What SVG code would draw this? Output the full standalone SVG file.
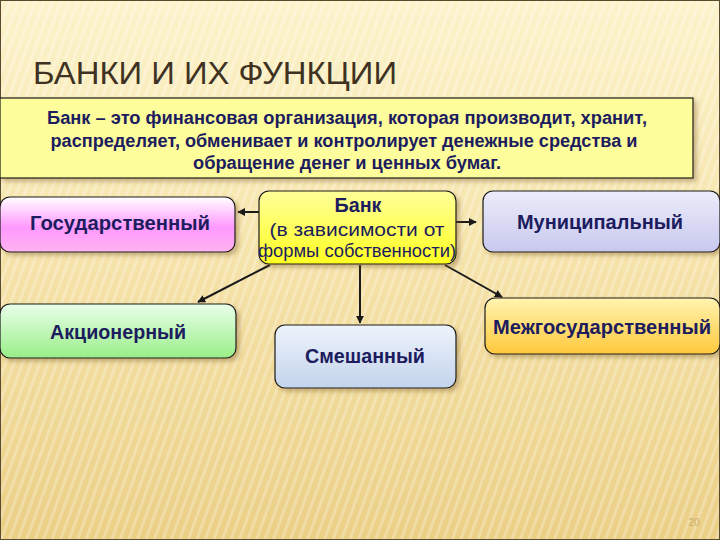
<svg xmlns="http://www.w3.org/2000/svg" width="720" height="540" viewBox="0 0 720 540">
<defs>
<linearGradient id="bg" x1="0" y1="0" x2="0" y2="1">
<stop offset="0" stop-color="#fcf3cb"/><stop offset="0.45" stop-color="#f6e4ac"/><stop offset="1" stop-color="#ebcf86"/>
</linearGradient>
<pattern id="stripes" width="8" height="8" patternUnits="userSpaceOnUse" patternTransform="rotate(20)">
<rect width="3" height="8" fill="#ffffff" opacity="0.25"/>
</pattern>
<linearGradient id="gPink" x1="0" y1="0" x2="0" y2="1"><stop offset="0" stop-color="#ffffff"/><stop offset="0.55" stop-color="#ff99ff"/><stop offset="1" stop-color="#ffb3f0"/></linearGradient>
<linearGradient id="gYellow" x1="0" y1="0" x2="0" y2="1"><stop offset="0" stop-color="#ffff99"/><stop offset="1" stop-color="#ffff22"/></linearGradient>
<linearGradient id="gLav" x1="0" y1="0" x2="0" y2="1"><stop offset="0" stop-color="#ececfb"/><stop offset="1" stop-color="#c8c8ee"/></linearGradient>
<linearGradient id="gGreen" x1="0" y1="0" x2="0" y2="1"><stop offset="0" stop-color="#eaffea"/><stop offset="1" stop-color="#99ee88"/></linearGradient>
<linearGradient id="gBlue" x1="0" y1="0" x2="0" y2="1"><stop offset="0" stop-color="#eef3fb"/><stop offset="1" stop-color="#c3d4ec"/></linearGradient>
<linearGradient id="gOrange" x1="0" y1="0" x2="0" y2="1"><stop offset="0" stop-color="#fff4b0"/><stop offset="1" stop-color="#ffc83c"/></linearGradient>
<filter id="sh" x="-10%" y="-10%" width="125%" height="135%">
<feDropShadow dx="3" dy="3" stdDeviation="2" flood-color="#7a5a20" flood-opacity="0.4"/>
</filter>
<marker id="arr" viewBox="0 0 10 10" refX="9" refY="5" markerWidth="4" markerHeight="4" orient="auto">
<path d="M0,0 L10,5 L0,10 z" fill="#1a1a1a"/>
</marker>
<style>
.node{stroke:#1a1a1a;stroke-width:1.2;filter:url(#sh)}
.lbl{font-family:"Liberation Sans",Arial,sans-serif;font-weight:bold;font-size:19.5px;fill:#1c1c5e;text-anchor:middle}
.def{font-family:"Liberation Sans",Arial,sans-serif;font-weight:bold;font-size:17.5px;fill:#1c1c5e;text-anchor:middle}
.sub{font-family:"Liberation Sans",Arial,sans-serif;font-size:18px;fill:#1c1c5e;text-anchor:middle}
.con{stroke:#1a1a1a;stroke-width:2;fill:none;marker-end:url(#arr)}
</style>
</defs>
<rect width="720" height="540" fill="url(#bg)"/>
<rect width="720" height="540" fill="url(#stripes)"/>
<rect x="0.5" y="0.5" width="719" height="539" fill="none" stroke="#5a4a30" stroke-width="1"/>
<text x="33" y="84" font-family="'Liberation Sans',Arial,sans-serif" font-size="31" fill="#3f3222" textLength="364" lengthAdjust="spacingAndGlyphs">БАНКИ И ИХ ФУНКЦИИ</text>

<g id="definition">
<rect x="0" y="98" width="693" height="80" fill="#fdfd9c" stroke="#1a1a1a" stroke-width="1.2" filter="url(#sh)"/>
<text class="def" x="347" y="124" textLength="600" lengthAdjust="spacingAndGlyphs">Банк – это финансовая организация, которая производит, хранит,</text>
<text class="def" x="344" y="147" textLength="587" lengthAdjust="spacingAndGlyphs">распределяет, обменивает и контролирует денежные средства и</text>
<text class="def" x="347" y="169" textLength="308" lengthAdjust="spacingAndGlyphs">обращение денег и ценных бумаг.</text>
</g>

<g id="connectors">
<line class="con" x1="259" y1="212" x2="238" y2="212"/>
<line class="con" x1="456" y1="222" x2="476" y2="222"/>
<line class="con" x1="270" y1="265" x2="198" y2="302"/>
<line class="con" x1="360" y1="265" x2="360" y2="323"/>
<line class="con" x1="445" y1="265" x2="502" y2="297"/>
</g>

<g id="gos">
<rect class="node" x="0" y="197" width="235" height="55" rx="10" fill="url(#gPink)"/>
<text class="lbl" x="120" y="230" textLength="180" lengthAdjust="spacingAndGlyphs">Государственный</text>
</g>
<g id="bank">
<rect class="node" x="259" y="191" width="197" height="73" rx="10" fill="url(#gYellow)"/>
<text class="lbl" x="358" y="212" textLength="47" lengthAdjust="spacingAndGlyphs">Банк</text>
<text class="sub" x="357" y="236" textLength="175" lengthAdjust="spacingAndGlyphs">(в зависимости от</text>
<text class="sub" x="357" y="257" textLength="198" lengthAdjust="spacingAndGlyphs">формы собственности)</text>
</g>
<g id="mun">
<rect class="node" x="483" y="191" width="237" height="61" rx="10" fill="url(#gLav)"/>
<text class="lbl" x="600" y="229" textLength="166" lengthAdjust="spacingAndGlyphs">Муниципальный</text>
</g>
<g id="akc">
<rect class="node" x="0" y="304" width="236" height="54" rx="10" fill="url(#gGreen)"/>
<text class="lbl" x="118" y="339" textLength="136" lengthAdjust="spacingAndGlyphs">Акционерный</text>
</g>
<g id="mix">
<rect class="node" x="275" y="325" width="181" height="63" rx="10" fill="url(#gBlue)"/>
<text class="lbl" x="365" y="363" textLength="120" lengthAdjust="spacingAndGlyphs">Смешанный</text>
</g>
<g id="mezh">
<rect class="node" x="485" y="298" width="235" height="56" rx="10" fill="url(#gOrange)"/>
<text class="lbl" x="602" y="334" textLength="218" lengthAdjust="spacingAndGlyphs">Межгосударственный</text>
</g>
<text x="694" y="526" font-family="'Liberation Sans',Arial,sans-serif" font-size="10" fill="#c9ad6a" text-anchor="middle">20</text>
</svg>
